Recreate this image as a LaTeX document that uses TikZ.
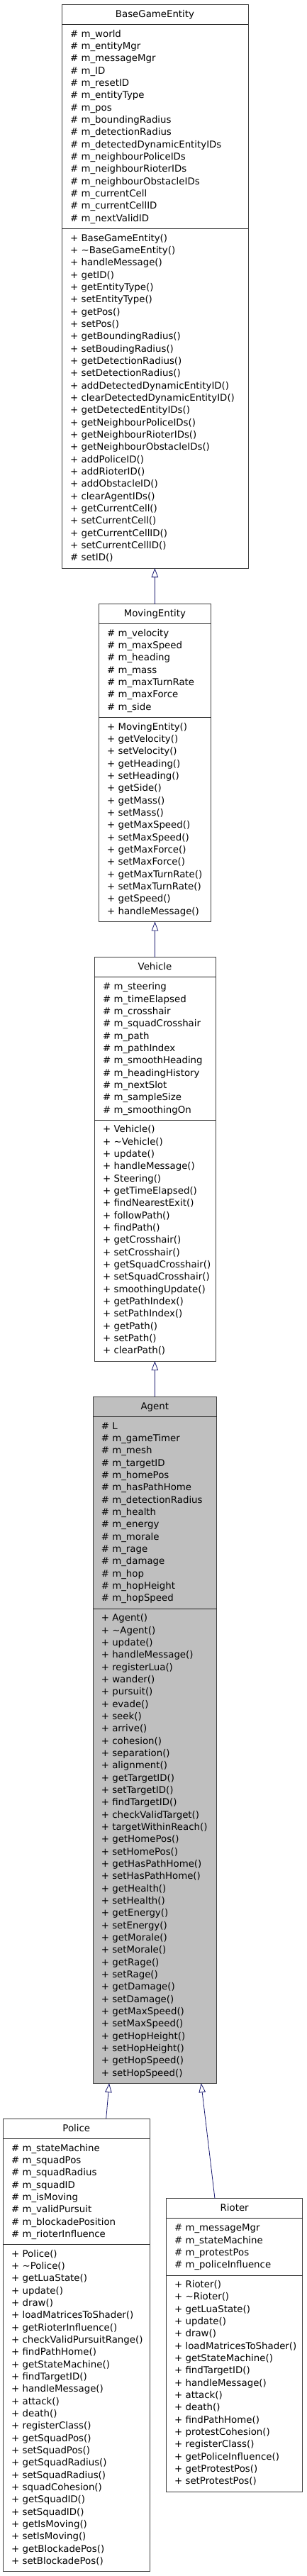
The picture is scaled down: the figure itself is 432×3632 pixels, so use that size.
\documentclass[tikz,border=0pt]{standalone}
\usepackage{fontspec}
\setmainfont{DejaVu Sans}
\usetikzlibrary{arrows.meta,calc}
\definecolor{edgeblue}{HTML}{191970}
\definecolor{agentgray}{HTML}{BFBFBF}
\definecolor{boxgray}{HTML}{404040}
\newcommand\umlfont{\fontsize{13.33}{17.33}\selectfont}
\begin{document}
\begin{tikzpicture}[x=1pt,y=-1pt,
  cls/.style={draw=boxgray, line width=1pt, fill=white, anchor=north west, inner sep=0pt, outer sep=0pt},
  sep/.style={draw=black!85, line width=1pt},
  ttl/.style={anchor=base, inner sep=0pt, font=\umlfont},
  txt/.style={anchor=base west, inner sep=0pt, font=\umlfont},
  inh/.style={draw=edgeblue, line width=0.8pt, -{Triangle[open, length=13pt, width=9.5pt]}}]
\useasboundingbox (0,0) rectangle (432,3632);

% ---------------- BaseGameEntity
\node[cls, minimum width=263pt, minimum height=794.7pt] (bge) at (87,6.3) {};
\draw[sep] (87,34.3) -- (350,34.3);
\draw[sep] (87,322.7) -- (350,322.7);
\node[ttl] (bge-t) at (218.5,24.3) {BaseGameEntity};
\foreach \t [count=\i from 0] in {\# m\_world,\# m\_entityMgr,\# m\_messageMgr,\# m\_ID,\# m\_resetID,\# m\_entityType,\# m\_pos,\# m\_boundingRadius,\# m\_detectionRadius,\# m\_detectedDynamicEntityIDs,\# m\_neighbourPoliceIDs,\# m\_neighbourRioterIDs,\# m\_neighbourObstacleIDs,\# m\_currentCell,\# m\_currentCellID,\# m\_nextValidID}
  \node[txt] (bge-a\i) at (99,52.3+17.333*\i) {\t};
\foreach \t [count=\i from 0] in {+ BaseGameEntity(),+ \textasciitilde BaseGameEntity(),+ handleMessage(),+ getID(),+ getEntityType(),+ setEntityType(),+ getPos(),+ setPos(),+ getBoundingRadius(),+ setBoudingRadius(),+ getDetectionRadius(),+ setDetectionRadius(),+ addDetectedDynamicEntityID(),+ clearDetectedDynamicEntityID(),+ getDetectedEntityIDs(),+ getNeighbourPoliceIDs(),+ getNeighbourRioterIDs(),+ getNeighbourObstacleIDs(),+ addPoliceID(),+ addRioterID(),+ addObstacleID(),+ clearAgentIDs(),+ getCurrentCell(),+ setCurrentCell(),+ getCurrentCellID(),+ setCurrentCellID(),\# setID()}
  \node[txt] (bge-m\i) at (99,340.2+17.333*\i) {\t};

% ---------------- MovingEntity
\node[cls, minimum width=158.7pt, minimum height=447.7pt] (me) at (139,851.7) {};
\draw[sep] (139,879.5) -- (297.7,879.5);
\draw[sep] (139,1011.7) -- (297.7,1011.7);
\node[ttl] (me-t) at (218.35,869.5) {MovingEntity};
\foreach \t [count=\i from 0] in {\# m\_velocity,\# m\_maxSpeed,\# m\_heading,\# m\_mass,\# m\_maxTurnRate,\# m\_maxForce,\# m\_side}
  \node[txt] (me-a\i) at (151,897.3+17.333*\i) {\t};
\foreach \t [count=\i from 0] in {+ MovingEntity(),+ getVelocity(),+ setVelocity(),+ getHeading(),+ setHeading(),+ getSide(),+ getMass(),+ setMass(),+ getMaxSpeed(),+ setMaxSpeed(),+ getMaxForce(),+ setMaxForce(),+ getMaxTurnRate(),+ setMaxTurnRate(),+ getSpeed(),+ handleMessage()}
  \node[txt] (me-m\i) at (151,1029.2+17.333*\i) {\t};

% ---------------- Vehicle
\node[cls, minimum width=171pt, minimum height=569.4pt] (veh) at (133,1349.7) {};
\draw[sep] (133,1377.7) -- (304,1377.7);
\draw[sep] (133,1579.4) -- (304,1579.4);
\node[ttl] (veh-t) at (218.5,1367.7) {Vehicle};
\foreach \t [count=\i from 0] in {\# m\_steering,\# m\_timeElapsed,\# m\_crosshair,\# m\_squadCrosshair,\# m\_path,\# m\_pathIndex,\# m\_smoothHeading,\# m\_headingHistory,\# m\_nextSlot,\# m\_sampleSize,\# m\_smoothingOn}
  \node[txt] (veh-a\i) at (145,1395.7+17.333*\i) {\t};
\foreach \t [count=\i from 0] in {+ Vehicle(),+ \textasciitilde Vehicle(),+ update(),+ handleMessage(),+ Steering(),+ getTimeElapsed(),+ findNearestExit(),+ followPath(),+ findPath(),+ getCrosshair(),+ setCrosshair(),+ getSquadCrosshair(),+ setSquadCrosshair(),+ smoothingUpdate(),+ getPathIndex(),+ setPathIndex(),+ getPath(),+ setPath(),+ clearPath()}
  \node[txt] (veh-m\i) at (145,1596.9+17.333*\i) {\t};

% ---------------- Agent
\node[cls, fill=agentgray, minimum width=174.7pt, minimum height=967.9pt] (agent) at (131,1969.3) {};
\draw[sep] (131,1997.3) -- (305.7,1997.3);
\draw[sep] (131,2268.3) -- (305.7,2268.3);
\node[ttl] (agent-t) at (218.35,1987.3) {Agent};
\foreach \t [count=\i from 0] in {\# L,\# m\_gameTimer,\# m\_mesh,\# m\_targetID,\# m\_homePos,\# m\_hasPathHome,\# m\_detectionRadius,\# m\_health,\# m\_energy,\# m\_morale,\# m\_rage,\# m\_damage,\# m\_hop,\# m\_hopHeight,\# m\_hopSpeed}
  \node[txt] (agent-a\i) at (142.7,2015.3+17.333*\i) {\t};
\foreach \t [count=\i from 0] in {+ Agent(),+ \textasciitilde Agent(),+ update(),+ handleMessage(),+ registerLua(),+ wander(),+ pursuit(),+ evade(),+ seek(),+ arrive(),+ cohesion(),+ separation(),+ alignment(),+ getTargetID(),+ setTargetID(),+ findTargetID(),+ checkValidTarget(),+ targetWithinReach(),+ getHomePos(),+ setHomePos(),+ getHasPathHome(),+ setHasPathHome(),+ getHealth(),+ setHealth(),+ getEnergy(),+ setEnergy(),+ getMorale(),+ setMorale(),+ getRage(),+ setRage(),+ getDamage(),+ setDamage(),+ getMaxSpeed(),+ setMaxSpeed(),+ getHopHeight(),+ setHopHeight(),+ getHopSpeed(),+ setHopSpeed()}
  \node[txt] (agent-m\i) at (142.7,2285.8+17.333*\i) {\t};

% ---------------- Police
\node[cls, minimum width=207pt, minimum height=638.7pt] (police) at (4.3,2987) {};
\draw[sep] (4.3,3015) -- (211.3,3015);
\draw[sep] (4.3,3164.7) -- (211.3,3164.7);
\node[ttl] (police-t) at (107.8,3005) {Police};
\foreach \t [count=\i from 0] in {\# m\_stateMachine,\# m\_squadPos,\# m\_squadRadius,\# m\_squadID,\# m\_isMoving,\# m\_validPursuit,\# m\_blockadePosition,\# m\_rioterInfluence}
  \node[txt] (police-a\i) at (16,3033+17.333*\i) {\t};
\foreach \t [count=\i from 0] in {+ Police(),+ \textasciitilde Police(),+ getLuaState(),+ update(),+ draw(),+ loadMatricesToShader(),+ getRioterInfluence(),+ checkValidPursuitRange(),+ findPathHome(),+ getStateMachine(),+ findTargetID(),+ handleMessage(),+ attack(),+ death(),+ registerClass(),+ getSquadPos(),+ setSquadPos(),+ getSquadRadius(),+ setSquadRadius(),+ squadCohesion(),+ getSquadID(),+ setSquadID(),+ getIsMoving(),+ setIsMoving(),+ getBlockadePos(),+ setBlockadePos()}
  \node[txt] (police-m\i) at (16,3182.2+17.333*\i) {\t};

% ---------------- Rioter
\node[cls, minimum width=192pt, minimum height=413.4pt] (rioter) at (234.7,3099.7) {};
\draw[sep] (234.7,3127.7) -- (426.7,3127.7);
\draw[sep] (234.7,3208.1) -- (426.7,3208.1);
\node[ttl] (rioter-t) at (330.7,3117.7) {Rioter};
\foreach \t [count=\i from 0] in {\# m\_messageMgr,\# m\_stateMachine,\# m\_protestPos,\# m\_policeInfluence}
  \node[txt] (rioter-a\i) at (246,3145.7+17.333*\i) {\t};
\foreach \t [count=\i from 0] in {+ Rioter(),+ \textasciitilde Rioter(),+ getLuaState(),+ update(),+ draw(),+ loadMatricesToShader(),+ getStateMachine(),+ findTargetID(),+ handleMessage(),+ attack(),+ death(),+ findPathHome(),+ protestCohesion(),+ registerClass(),+ getPoliceInfluence(),+ getProtestPos(),+ setProtestPos()}
  \node[txt] (rioter-m\i) at (246,3225.6+17.333*\i) {\t};

% ---------------- inheritance edges
\draw[inh] (me.north) -- (me.north |- bge.south);
\draw[inh] (veh.north) -- (veh.north |- me.south);
\draw[inh] (agent.north) -- (agent.north |- veh.south);
\draw[inh] ($(police.north west)+(145.4,0)$) -- ($(agent.south west)+(23,0)$);
\draw[inh] ($(rioter.north west)+(68.3,0)$) -- ($(agent.south west)+(152.7,0)$);
\end{tikzpicture}
\end{document}
